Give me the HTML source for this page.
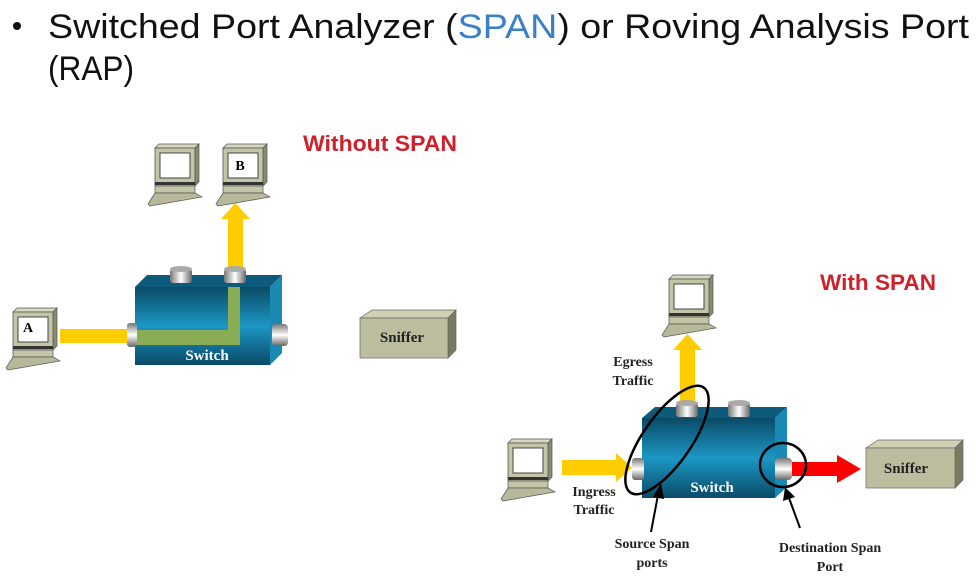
<!DOCTYPE html>
<html><head><meta charset="utf-8"><style>
html,body{margin:0;padding:0;background:#fff;}
svg{display:block;}
</style></head><body>
<svg width="976" height="579" viewBox="0 0 976 579" xmlns="http://www.w3.org/2000/svg">
<defs>
<linearGradient id="sw" x1="0" y1="0" x2="0" y2="1">
<stop offset="0" stop-color="#0a4a66"/><stop offset="0.5" stop-color="#1b97c4"/><stop offset="1" stop-color="#0a4a66"/>
</linearGradient>
<linearGradient id="port" x1="0" y1="0" x2="1" y2="0">
<stop offset="0" stop-color="#777"/><stop offset="0.5" stop-color="#fff"/><stop offset="1" stop-color="#666"/>
</linearGradient>
<linearGradient id="portv" x1="0" y1="0" x2="0" y2="1">
<stop offset="0" stop-color="#777"/><stop offset="0.5" stop-color="#fff"/><stop offset="1" stop-color="#666"/>
</linearGradient>
<g id="pc">
<path d="M5,0 L45,0 L49,-4 L9,-4 Z" fill="#d8d8c0" stroke="#555" stroke-width="0.7"/>
<path d="M45,0 L49,-4 L49,34 L45,38 Z" fill="#8a8a70" stroke="#555" stroke-width="0.7"/>
<rect x="5" y="0" width="40" height="38" fill="#c4c4a6" stroke="#555" stroke-width="0.8"/>
<rect x="10" y="5" width="30" height="25" fill="#fff" stroke="#444" stroke-width="1"/>
<rect x="5" y="34" width="40" height="3" fill="#333"/>
<path d="M5,38 L45,38 L45,45 L5,45 Z" fill="#c4c4a6" stroke="#555" stroke-width="0.7"/>
<path d="M5,45 L45,45 L52,49 L0,58 L-2,56 Z" fill="#b8b89a" stroke="#555" stroke-width="0.7"/>
</g>
</defs>

<circle cx="17" cy="26" r="4" fill="#111"/>
<text x="48" y="38" font-family="Liberation Sans, sans-serif" font-size="34" fill="#111" textLength="921" lengthAdjust="spacingAndGlyphs">Switched Port Analyzer (<tspan fill="#3a80c9">SPAN</tspan>) or Roving Analysis Port</text>
<text x="48" y="80" font-family="Liberation Sans, sans-serif" font-size="34" fill="#111" textLength="86" lengthAdjust="spacingAndGlyphs">(RAP)</text>

<text x="303" y="151" font-family="Liberation Sans, sans-serif" font-weight="bold" font-size="22" fill="#d0202a" textLength="154" lengthAdjust="spacingAndGlyphs">Without SPAN</text>
<text x="820" y="290" font-family="Liberation Sans, sans-serif" font-weight="bold" font-size="22" fill="#d0202a" textLength="116" lengthAdjust="spacingAndGlyphs">With SPAN</text>

<use href="#pc" x="150" y="148"/>
<use href="#pc" x="218" y="148"/>
<text x="240" y="170" font-family="Liberation Serif, serif" font-weight="bold" font-size="14" text-anchor="middle">B</text>
<use href="#pc" x="8" y="312"/>
<text x="28" y="332" font-family="Liberation Serif, serif" font-weight="bold" font-size="14" text-anchor="middle">A</text>

<rect x="228" y="218" width="15" height="50" fill="#ffcc00"/>
<path d="M221,219 L235.5,203 L250,219 Z" fill="#ffcc00"/>
<rect x="60" y="329" width="72" height="14" fill="#ffcc00"/>

<path d="M135,287 L147,275 L282,275 L270,287 Z" fill="#0d5a7a"/>
<path d="M270,287 L282,275 L282,353 L270,365 Z" fill="#1a8ab5"/>
<rect x="135" y="287" width="135" height="78" fill="url(#sw)"/>
<rect x="135" y="330" width="105" height="15" fill="#8aac55"/>
<rect x="228" y="287" width="12" height="58" fill="#8aac55"/>
<rect x="170" y="269" width="22" height="14" rx="3" fill="url(#port)"/>
<ellipse cx="181" cy="269" rx="11" ry="3" fill="#aaa"/>
<rect x="224" y="269" width="22" height="14" rx="3" fill="url(#port)"/>
<ellipse cx="235" cy="269" rx="11" ry="3" fill="#aaa"/>
<rect x="127" y="323" width="10" height="24" rx="3" fill="url(#portv)"/>
<rect x="272" y="324" width="16" height="22" rx="4" fill="url(#portv)"/>
<text x="207" y="360" font-family="Liberation Serif, serif" font-weight="bold" font-size="15" fill="#fff" text-anchor="middle">Switch</text>

<path d="M360,318 L372,310 L456,310 L448,318 Z" fill="#d0d0b4" stroke="#666" stroke-width="0.7"/>
<path d="M448,318 L456,310 L456,350 L448,358 Z" fill="#7a7a60" stroke="#666" stroke-width="0.7"/>
<rect x="360" y="318" width="88" height="40" fill="#bcbc9e" stroke="#666" stroke-width="0.7"/>
<text x="402" y="342" font-family="Liberation Serif, serif" font-weight="bold" font-size="15" fill="#222" text-anchor="middle">Sniffer</text>

<use href="#pc" x="664" y="279"/>
<use href="#pc" x="503" y="443"/>

<rect x="680" y="348" width="15" height="55" fill="#ffcc00"/>
<path d="M673,350 L687.5,334 L702,350 Z" fill="#ffcc00"/>
<text x="633" y="366" font-family="Liberation Serif, serif" font-weight="bold" font-size="14" fill="#222" text-anchor="middle">Egress</text>
<text x="633" y="385" font-family="Liberation Serif, serif" font-weight="bold" font-size="14" fill="#222" text-anchor="middle">Traffic</text>

<rect x="562" y="460" width="56" height="15" fill="#ffcc00"/>
<path d="M616,453 L632,467.5 L616,482 Z" fill="#ffcc00"/>
<text x="594" y="496" font-family="Liberation Serif, serif" font-weight="bold" font-size="14" fill="#222" text-anchor="middle">Ingress</text>
<text x="594" y="514" font-family="Liberation Serif, serif" font-weight="bold" font-size="14" fill="#222" text-anchor="middle">Traffic</text>

<path d="M642,418 L655,407 L787,407 L775,418 Z" fill="#0d5a7a"/>
<path d="M775,418 L787,407 L787,487 L775,498 Z" fill="#1a8ab5"/>
<rect x="642" y="418" width="133" height="80" fill="url(#sw)"/>
<rect x="676" y="403" width="22" height="14" rx="3" fill="url(#port)"/>
<ellipse cx="687" cy="403" rx="11" ry="3" fill="#aaa"/>
<rect x="728" y="403" width="22" height="14" rx="3" fill="url(#port)"/>
<ellipse cx="739" cy="403" rx="11" ry="3" fill="#aaa"/>
<rect x="632" y="458" width="12" height="22" rx="3" fill="url(#portv)"/>
<rect x="775" y="458" width="17" height="22" rx="4" fill="url(#portv)"/>
<text x="712" y="492" font-family="Liberation Serif, serif" font-weight="bold" font-size="15" fill="#fff" text-anchor="middle">Switch</text>

<rect x="792" y="462" width="47" height="14" fill="#ff0000"/>
<path d="M837,455 L861,469 L837,483 Z" fill="#ff0000"/>

<path d="M866,448 L878,440 L963,440 L955,448 Z" fill="#d0d0b4" stroke="#666" stroke-width="0.7"/>
<path d="M955,448 L963,440 L963,480 L955,488 Z" fill="#7a7a60" stroke="#666" stroke-width="0.7"/>
<rect x="866" y="448" width="89" height="40" fill="#bcbc9e" stroke="#666" stroke-width="0.7"/>
<text x="906" y="473" font-family="Liberation Serif, serif" font-weight="bold" font-size="15" fill="#222" text-anchor="middle">Sniffer</text>

<ellipse cx="667" cy="440" rx="64" ry="24" transform="rotate(-55 667 440)" fill="none" stroke="#000" stroke-width="2.5"/>
<ellipse cx="783" cy="465" rx="23" ry="22" fill="none" stroke="#000" stroke-width="2.5"/>

<line x1="651" y1="532" x2="658" y2="495" stroke="#000" stroke-width="2"/>
<path d="M653,497 L661,483 L664,499 Z" fill="#000"/>
<line x1="800" y1="528" x2="789" y2="498" stroke="#000" stroke-width="2"/>
<path d="M783,501 L785,487 L795,497 Z" fill="#000"/>

<text x="652" y="548" font-family="Liberation Serif, serif" font-weight="bold" font-size="14" fill="#222" text-anchor="middle">Source Span</text>
<text x="652" y="567" font-family="Liberation Serif, serif" font-weight="bold" font-size="14" fill="#222" text-anchor="middle">ports</text>
<text x="830" y="552" font-family="Liberation Serif, serif" font-weight="bold" font-size="14" fill="#222" text-anchor="middle">Destination Span</text>
<text x="830" y="571" font-family="Liberation Serif, serif" font-weight="bold" font-size="14" fill="#222" text-anchor="middle">Port</text>
</svg>
</body></html>
